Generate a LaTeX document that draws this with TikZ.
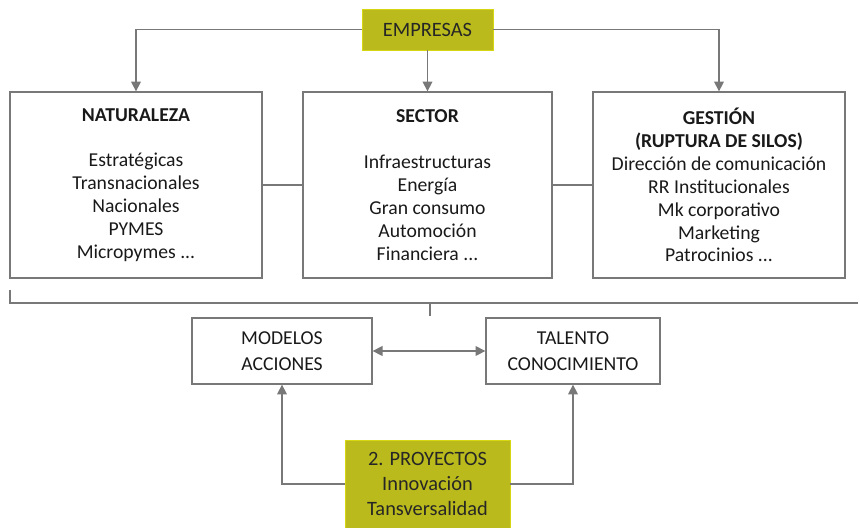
\documentclass[tikz,border=0pt]{standalone}
\usepackage{fontspec}
\setmainfont{Carlito}
\usetikzlibrary{arrows.meta}

\definecolor{oliva}{RGB}{186,186,28}
\definecolor{linea}{RGB}{120,120,120}

\begin{document}
\begin{tikzpicture}[x=0.025cm, y=-0.025cm,
        caja/.style={draw=linea, line width=0.9pt, align=center, inner sep=0pt,
            font=\fontsize{14}{16.3}\selectfont, text=black!90},
        destacado/.style={fill=oliva, draw=oliva!60!yellow, line width=0.6pt, align=center,
            inner sep=0pt, font=\fontsize{14.5}{18}\selectfont, text=black!85},
        flecha/.style={draw=linea, line width=1pt, -{Triangle[length=7pt,width=7pt]}},
        linea/.style={draw=linea, line width=1pt}]
        \useasboundingbox (0,0) rectangle (860,527);

        % empresas y tipos
        \node[destacado, minimum width=3.275cm, minimum height=1.025cm] (emp) at (427.5,29.5) {EMPRESAS};
        \node[caja, minimum width=6.3cm, minimum height=4.65cm] (nat) at (136,185)
            {\textbf{NATURALEZA}\\[16.3pt]Estratégicas\\Transnacionales\\Nacionales\\PYMES\\Micropymes ...};
        \node[caja, minimum width=6.225cm, minimum height=4.65cm] (sec) at (427.5,185)
            {\textbf{SECTOR}\\[16.3pt]Infraestructuras\\Energía\\Gran consumo\\Automoción\\Financiera ...};
        \node[caja, minimum width=6.3cm, minimum height=4.65cm] (ges) at (719,185)
            {\textbf{GESTIÓN}\\\textbf{(RUPTURA DE SILOS)}\\Dirección de comunicación\\RR Institucionales\\Mk corporativo\\Marketing\\Patrocinios ...};

        \draw[flecha] (emp.west) -| (nat.north);
        \draw[flecha] (emp.south) -- (sec.north);
        \draw[flecha] (emp.east) -| (ges.north);
        \foreach \a/\b in {nat/sec, sec/ges} {
            \draw[linea] (\a.east) -- (\b.west);
        }

        % llave
        \coordinate (llaveA) at (10,290);
        \coordinate (llaveB) at (858,303);
        \coordinate (llaveC) at (430,303);
        \coordinate (llaveD) at (430,316);
        \draw[linea] (llaveA) |- (llaveB);
        \draw[linea] (llaveC) -- (llaveD);

        % proyectos
        \node[caja, minimum width=4.5cm, minimum height=1.65cm] (mod) at (282,351) {MODELOS\\[2pt]ACCIONES};
        \node[caja, minimum width=4.35cm, minimum height=1.65cm] (tal) at (573,351) {TALENTO\\[2pt]CONOCIMIENTO};
        \node[destacado, minimum width=4.125cm, minimum height=2.2cm] (pro) at (427.5,484)
            {2. PROYECTOS\\Innovación\\Tansversalidad};

        \draw[linea, {Triangle[length=7pt,width=7pt]}-{Triangle[length=7pt,width=7pt]}] (mod.east) -- (tal.west);
        \draw[flecha] (pro.west) -| (mod.south);
        \draw[flecha] (pro.east) -| (tal.south);
    \end{tikzpicture}
\end{document}
